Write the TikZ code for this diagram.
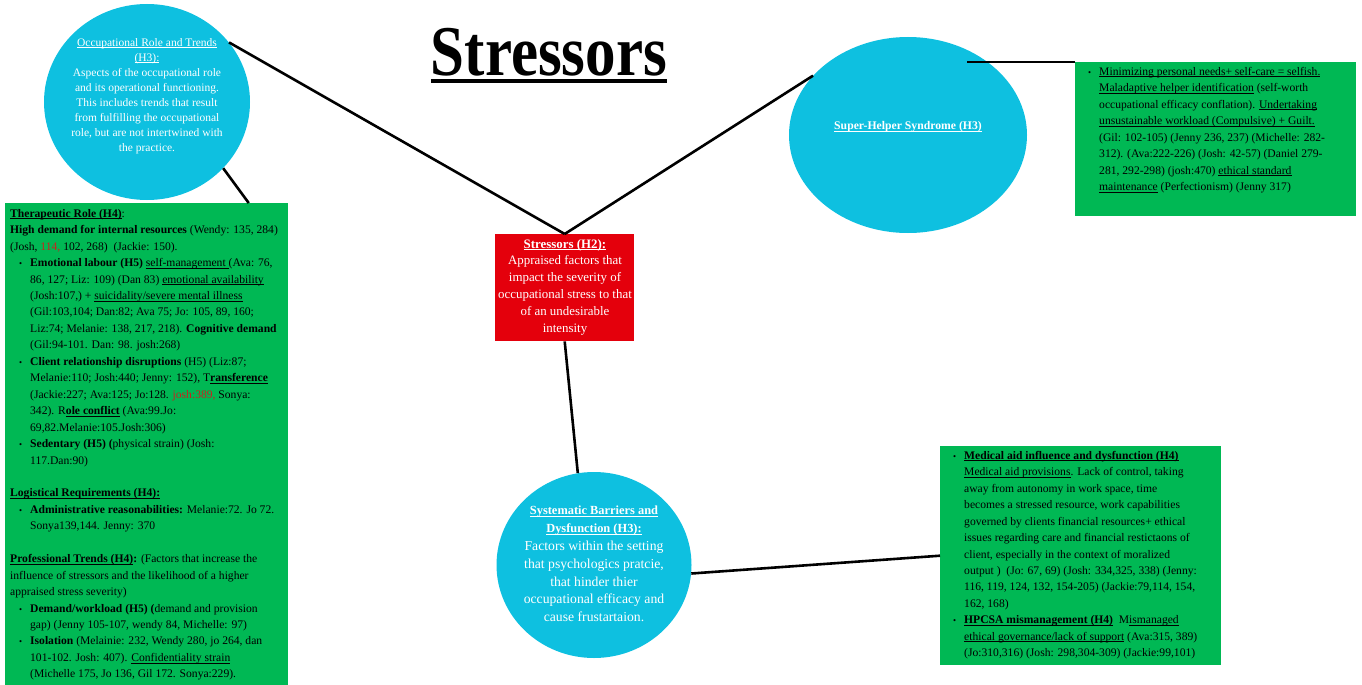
\documentclass[tikz,border=0pt]{standalone}
\usepackage{fontspec}
\setmainfont{Liberation Serif}
\usetikzlibrary{shapes.geometric,calc}
\definecolor{cyanfill}{RGB}{14,192,224}
\definecolor{greenfill}{RGB}{0,184,84}
\definecolor{redfill}{RGB}{228,0,12}
\definecolor{citered}{RGB}{200,35,30}
\newcommand{\bul}{\makebox[20pt][r]{\scalebox{0.75}{\textbullet}\hspace{8pt}}}
\newcommand{\ind}{\hspace*{20pt}}
\newcommand{\uln}[1]{\leavevmode\setbox0\hbox{#1}\rlap{\rule[-1.7pt]{\wd0}{0.6pt}}\box0\relax}
\begin{document}
\begin{tikzpicture}[x=1pt,y=-1pt,
  bubble/.style={ellipse,fill=cyanfill,inner sep=0},
  leafbox/.style={rectangle,fill=greenfill,inner sep=0,anchor=north west},
  leaftext/.style={anchor=north west,align=left,inner sep=0,font=\fontsize{11.6}{16.45}\selectfont},
  bubbletext/.style={align=center,inner sep=0,text=white},
  link/.style={draw=black,line width=2.6pt}]
\useasboundingbox (0,0) rectangle (1362,685);
% title
\node[inner sep=0,anchor=base,font=\fontsize{61}{61}\selectfont\bfseries] (title) at (549,75) {\scalebox{1}[1.17]{Stressors}};
\draw[line width=4pt] ([yshift=-6pt]title.base west) -- ([yshift=-6pt]title.base east);
% bubbles
\node[bubble,minimum width=206,minimum height=196] (occ) at (147,102) {};
\node[bubbletext,font=\fontsize{11.5}{15}\selectfont] (occtext) at (147,96) {\uln{Occupational Role and Trends}\\\uln{(H3):}\\Aspects of the occupational role\\and its operational functioning.\\This includes trends that result\\from fulfilling the occupational\\role, but are not intertwined with\\the practice.};
\node[bubble,minimum width=238,minimum height=196] (helper) at (908,135) {};
\node[bubbletext,font=\fontsize{11.7}{15}\selectfont\bfseries] (helpertext) at (908,127) {\uln{Super-Helper Syndrome (H3)}};
\node[bubble,minimum width=195,minimum height=186] (sys) at (594,565) {};
\node[bubbletext,font=\fontsize{13.7}{17.8}\selectfont] (systext) at (594,564) {{\fontsize{12.4}{17.8}\selectfont\textbf{\uln{Systematic Barriers and}}}\\{\fontsize{12.4}{17.8}\selectfont\textbf{\uln{Dysfunction (H3):}}}\\Factors within the setting\\that psychologics pratcie,\\that hinder thier\\occupational efficacy and\\cause frustartaion.};
% central box
\node[rectangle,fill=redfill,inner sep=0,anchor=north west,minimum width=139,minimum height=107] (stressbox) at (495,234) {};
\node[bubbletext,font=\fontsize{12.9}{16.8}\selectfont] (stresstext) at (565,287) {\textbf{\uln{Stressors (H2):}}\\Appraised factors that\\impact the severity of\\occupational stress to that\\of an undesirable\\intensity};
% green boxes
\node[leafbox,minimum width=283,minimum height=482] (rolebox) at (5,203) {};
\node[leaftext] (roletext) at (10,209) {%
\textbf{\uln{Therapeutic Role (H4)}}:\\
\textbf{High demand for internal resources} (Wendy: 135, 284)\\
(Josh, \textcolor{citered}{114,} 102, 268)\ \ (Jackie: 150).\\
\bul\textbf{Emotional labour (H5)} \uln{self-management }(Ava: 76,\\
\ind 86, 127; Liz: 109) (Dan 83) \uln{emotional availability}\\
\ind (Josh:107,) + \uln{suicidality/severe mental illness}\\
\ind (Gil:103,104; Dan:82; Ava 75; Jo: 105, 89, 160;\\
\ind Liz:74; Melanie: 138, 217, 218). \textbf{Cognitive demand}\\
\ind (Gil:94-101. Dan: 98. josh:268)\\
\bul\textbf{Client relationship disruptions} (H5) (Liz:87;\\
\ind Melanie:110; Josh:440; Jenny: 152), T\textbf{\uln{ransference}}\\
\ind (Jackie:227; Ava:125; Jo:128. \textcolor{citered}{josh:389,} Sonya:\\
\ind 342). R\textbf{\uln{ole conflict}} (Ava:99.Jo:\\
\ind 69,82.Melanie:105.Josh:306)\\
\bul\textbf{Sedentary (H5) (}physical strain) (Josh:\\
\ind 117.Dan:90)\\[16.45pt]
\textbf{\uln{Logistical Requirements (H4):}}\\
\bul\textbf{Administrative reasonabilities:} Melanie:72. Jo 72.\\
\ind Sonya139,144. Jenny: 370\\[16.45pt]
\textbf{\uln{Professional Trends (H4)}:} (Factors that increase the\\
influence of stressors and the likelihood of a higher\\
appraised stress severity)\\
\bul\textbf{Demand/workload (H5) (}demand and provision\\
\ind gap) (Jenny 105-107, wendy 84, Michelle: 97)\\
\bul\textbf{Isolation} (Melainie: 232, Wendy 280, jo 264, dan\\
\ind 101-102. Josh: 407). \uln{Confidentiality strain}\\
\ind (Michelle 175, Jo 136, Gil 172. Sonya:229).};
\node[leafbox,minimum width=281,minimum height=154] (helperbox) at (1075,62) {};
\node[leaftext] (helperlist) at (1079,67) {%
\bul\uln{Minimizing personal needs+ self-care = selfish.}\\
\ind\uln{Maladaptive helper identification} (self-worth\\
\ind occupational efficacy conflation). \uln{Undertaking}\\
\ind\uln{unsustainable workload (Compulsive) + Guilt.}\\
\ind (Gil: 102-105) (Jenny 236, 237) (Michelle: 282-\\
\ind 312). (Ava:222-226) (Josh: 42-57) (Daniel 279-\\
\ind 281, 292-298) (josh:470) \uln{ethical standard}\\
\ind\uln{maintenance} (Perfectionism) (Jenny 317)};
\node[leafbox,minimum width=281,minimum height=219] (medbox) at (940,446) {};
\node[leaftext] (medlist) at (944,451) {%
\bul\textbf{\uln{Medical aid influence and dysfunction (H4)}}\\
\ind\uln{Medical aid provisions}. Lack of control, taking\\
\ind away from autonomy in work space, time\\
\ind becomes a stressed resource, work capabilities\\
\ind governed by clients financial resources+ ethical\\
\ind issues regarding care and financial restictaons of\\
\ind client, especially in the context of moralized\\
\ind output )\ \ (Jo: 67, 69) (Josh: 334,325, 338) (Jenny:\\
\ind 116, 119, 124, 132, 154-205) (Jackie:79,114, 154,\\
\ind 162, 168)\\
\bul\textbf{\uln{HPCSA mismanagement (H4)}}\ \ M\uln{ismanaged}\\
\ind\uln{ethical governance/lack of support} (Ava:315, 389)\\
\ind (Jo:310,316) (Josh: 298,304-309) (Jackie:99,101)};
% connectors
\coordinate (helperend) at (967,62);
\draw[link] (occ.36) -- (stressbox.north);
\draw[link] (helper.148) -- (stressbox.north);
\draw[link] (occ.-41) -- ($(rolebox.north west)!0.86!(rolebox.north east)$);
\draw[link] (stressbox.south) -- (sys.100);
\draw[link] (sys.-5) -- (medbox.west);
\draw[link] (helperend) -- (helperbox.north west);
\end{tikzpicture}
\end{document}
